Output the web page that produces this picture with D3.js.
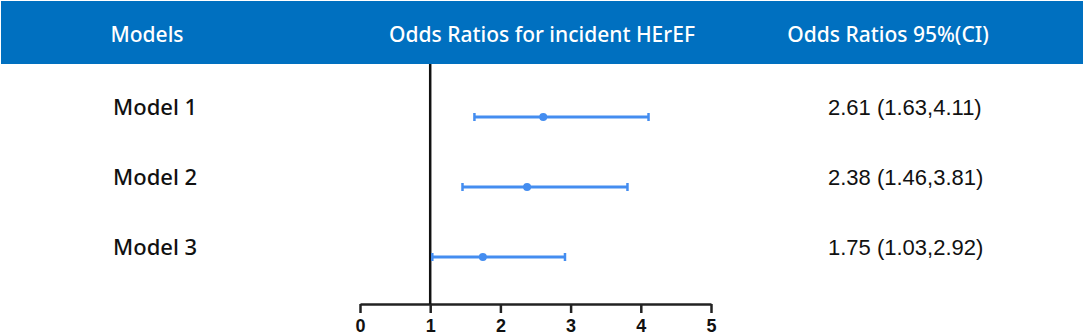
<!DOCTYPE html>
<html>
<head>
    <title>Forest plot</title>
    <script src="https://d3js.org/d3.v7.min.js"></script>
    <style>
        body { margin: 0; background: #fff; }
    </style>
</head>
<body>
    <script>
        // data
        var models = ["Model 1", "Model 2", "Model 3"];
        var oddsRatio = [2.61, 2.38, 1.75];
        var ciLow = [1.63, 1.46, 1.03];
        var ciHigh = [4.11, 3.81, 2.92];
        var headers = ["Models", "Odds Ratios for incident HErEF", "Odds Ratios 95%(CI)"];
        var ticks = [0, 1, 2, 3, 4, 5];

        var width = 1084, height = 335;

        var svg = d3.select("body")
                    .append("svg")
                    .attr("width", width)
                    .attr("height", height);

        // header band
        svg.append("rect")
           .attr("x", 1).attr("y", 1)
           .attr("width", width - 2).attr("height", 63)
           .attr("fill", "#0070c0");

        var headerX = [147, 542, 888];
        svg.selectAll(".hdr")
           .data(headers)
           .join("text")
           .attr("class", "hdr")
           .attr("x", (d, i) => headerX[i])
           .attr("y", 42)
           .attr("text-anchor", "middle")
           .attr("fill", "#fff")
           .attr("font-family", "Noto Sans")
           .attr("font-weight", 500)
           .attr("font-size", 21)
           .text(d => d);

        // scales
        var x = d3.scaleLinear().domain([0, 5]).range([360, 711]);
        var y = d3.scalePoint().domain(models).range([117, 257]);

        // axis
        var axis = svg.append("g")
                      .attr("transform", "translate(0,304)")
                      .call(d3.axisBottom(x).tickValues(ticks).tickSize(9).tickSizeOuter(0).tickFormat(d3.format("d")));
        axis.select(".domain").attr("stroke", "#222").attr("stroke-width", 2.5);
        axis.selectAll(".tick line").attr("stroke", "#222").attr("stroke-width", 2.5);
        axis.selectAll(".tick text")
            .attr("y", 15)
            .attr("fill", "#111")
            .attr("font-family", "Liberation Sans")
            .attr("font-weight", "bold")
            .attr("font-size", 18);

        // reference line at 1
        svg.append("line")
           .attr("x1", x(1)).attr("x2", x(1))
           .attr("y1", 64).attr("y2", 304)
           .attr("stroke", "#111")
           .attr("stroke-width", 2.5);

        var rows = svg.append("g")
                      .selectAll("g")
                      .data(models)
                      .join("g");

        var blue = "#448df0";

        rows.append("line")
            .attr("x1", (d, i) => x(ciLow[i]))
            .attr("x2", (d, i) => x(ciHigh[i]))
            .attr("y1", d => y(d)).attr("y2", d => y(d))
            .attr("stroke", blue).attr("stroke-width", 3);

        rows.append("line")
            .attr("x1", (d, i) => x(ciLow[i])).attr("x2", (d, i) => x(ciLow[i]))
            .attr("y1", d => y(d) - 4).attr("y2", d => y(d) + 4)
            .attr("stroke", blue).attr("stroke-width", 2.5);

        rows.append("line")
            .attr("x1", (d, i) => x(ciHigh[i])).attr("x2", (d, i) => x(ciHigh[i]))
            .attr("y1", d => y(d) - 4).attr("y2", d => y(d) + 4)
            .attr("stroke", blue).attr("stroke-width", 2.5);

        rows.append("circle")
            .attr("cx", (d, i) => x(oddsRatio[i]))
            .attr("cy", d => y(d))
            .attr("r", 4)
            .attr("fill", blue);

        // labels
        rows.append("text")
            .attr("x", 113)
            .attr("y", d => y(d) - 2)
            .attr("font-family", "Noto Sans")
            .attr("font-weight", 500)
            .attr("font-size", 22)
            .attr("fill", "#111")
            .text(d => d);

        var fmt = d3.format(".2f");
        rows.append("text")
            .attr("x", 828)
            .attr("y", d => y(d) - 2)
            .attr("font-family", "Liberation Sans")
            .attr("font-size", 22)
            .attr("fill", "#111")
            .text((d, i) => fmt(oddsRatio[i]) + " (" + fmt(ciLow[i]) + "," + fmt(ciHigh[i]) + ")");
    </script>
</body>
</html>
